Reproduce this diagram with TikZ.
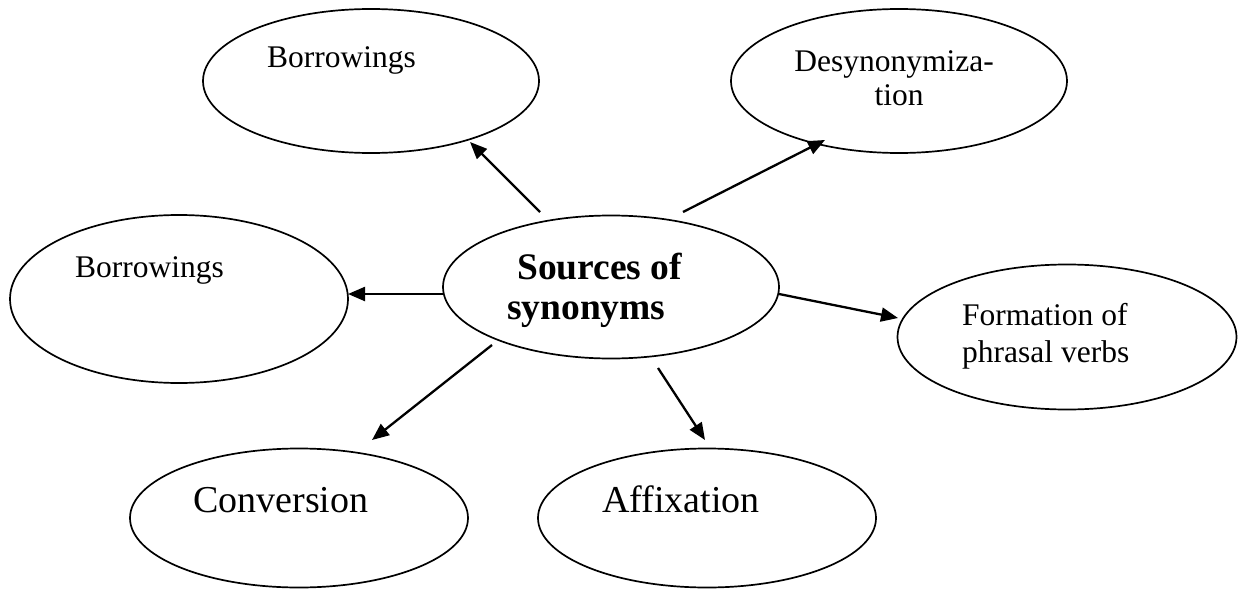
\documentclass[tikz,border=0pt]{standalone}
\usepackage{fontspec}
\setmainfont{Liberation Serif}
\usetikzlibrary{arrows.meta,shapes.geometric}
\begin{document}
\begin{tikzpicture}[x=1pt,y=-1pt,
  oval/.style={draw, ellipse, line width=1.7pt, inner sep=0pt, outer sep=0pt},
  arr/.style={line width=2.3pt, -{Triangle[length=17pt,width=14pt]}},
  lbl/.style={inner sep=0pt, font=\fontsize{31.5}{36}\selectfont},
  big/.style={inner sep=0pt, font=\fontsize{38}{42}\selectfont},
  bold/.style={inner sep=0pt, font=\fontsize{37.5}{42}\selectfont\bfseries},
]
\useasboundingbox (0,0) rectangle (1243,589);
% ellipses
\node[oval, minimum width=336pt, minimum height=144pt] (tl) at (371,81) {};
\node[oval, minimum width=336pt, minimum height=144pt] (tr) at (899,81) {};
\node[oval, minimum width=338pt, minimum height=168pt] (l)  at (179,299) {};
\node[oval, minimum width=336pt, minimum height=143pt] (c)  at (611,287) {};
\node[oval, minimum width=339pt, minimum height=145pt] (r)  at (1067,337) {};
\node[oval, minimum width=338pt, minimum height=139pt] (cv) at (299,518) {};
\node[oval, minimum width=338pt, minimum height=139pt] (af) at (707,518) {};
% texts
\node[lbl, anchor=base west] (tlt) at (267,67) {Borrowings};
\node[lbl, anchor=base] (trt1) at (894,71) {Desynonymiza-};
\node[lbl, anchor=base] (trt2) at (899,105) {tion};
\node[lbl, anchor=base west] (lt) at (75,277) {Borrowings};
\node[bold, anchor=base west] (ct1) at (517,279) {Sources of};
\node[bold, anchor=base west] (ct2) at (507,319) {synonyms};
\node[lbl, anchor=base west] (rt1) at (962,325) {Formation of};
\node[lbl, anchor=base west] (rt2) at (962,362) {phrasal verbs};
\node[big, anchor=base west] (cvt) at (193,512) {Conversion};
\node[big, anchor=base west] (aft) at (602,512) {Affixation};
% arrows
\draw[arr] ([shift={(-71,-75)}]c.center) -- ([shift={(99,61)}]tl.center);
\draw[arr] ([shift={(72,-75)}]c.center) -- ([shift={(-74,59)}]tr.center);
\draw[arr] ([shift={(-168,7)}]c.center) -- ([shift={(169,-5)}]l.center);
\draw[arr] ([shift={(168,7)}]c.center) -- ([shift={(-169,-19)}]r.center);
\draw[arr] ([shift={(-119,58)}]c.center) -- ([shift={(73,-78)}]cv.center);
\draw[arr] ([shift={(47,81)}]c.center) -- ([shift={(-2,-78)}]af.center);
\end{tikzpicture}
\end{document}
